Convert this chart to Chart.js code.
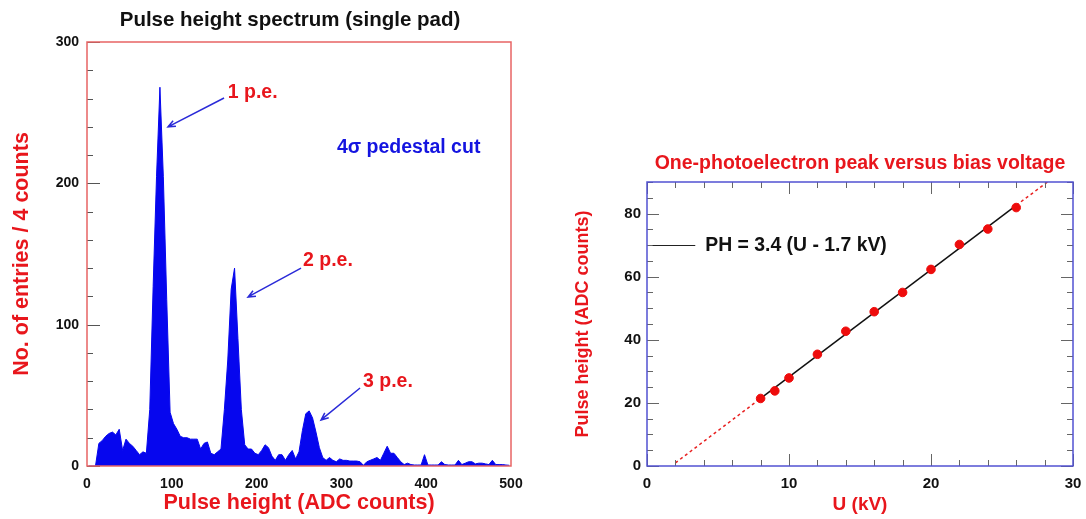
<!DOCTYPE html>
<html>
<head>
<meta charset="utf-8">
<title>Pulse height spectrum</title>
<script src="https://cdn.jsdelivr.net/npm/chart.js@4.4.1/dist/chart.umd.min.js"></script>
<style>
  body { margin: 0; background: #fff; overflow: hidden; }
  #page { position: relative; width: 1086px; height: 519px; overflow: hidden; background: #fff; }
  canvas { position: absolute; top: 0; }
  #spectrum { left: 0; }
  #bias { left: 540px; }
</style>
</head>
<body>
<div id="page">
  <canvas id="spectrum" width="580" height="519"></canvas>
  <canvas id="bias" width="640" height="519"></canvas>
</div>
<script>
// Left plot: entries per bin of 4 ADC counts (bin 0 = 0..4 counts)
const binWidth = 4;
const entries = [
  0, 0, 0, 16, 18, 21, 23, 24, 22, 26,
  11, 19, 16, 14, 11, 8, 10, 9, 40, 127,
  205, 268, 205, 118, 38, 30, 26, 21, 20, 20,
  19, 19, 19, 12, 16, 17, 9, 8, 10, 12,
  40, 75, 125, 140, 90, 40, 15, 12, 12, 9,
  8, 11, 15, 13, 7, 4, 8, 8, 4, 8,
  11, 5, 10, 25, 37, 39, 34, 24, 13, 6,
  4, 6, 4, 3, 5, 4, 4, 3.5, 3.5, 3.5,
  3, 0.5, 3, 4, 5, 6, 4, 9, 14, 9,
  9, 6, 3, 1, 2, 1, 0.7, 0.7, 0.7, 8,
  0.7, 0.7, 0.7, 0.7, 3, 1, 0.7, 0.7, 0.7, 4,
  1, 2, 3, 3, 1.5, 2, 2, 1.5, 1, 4,
  1, 1, 1, 0.7, 0.5
];
const spectrumXTicks = [0, 100, 200, 300, 400, 500];
const spectrumYTicks = [0, 100, 200, 300];
const peakLabels = ['1 p.e.', '2 p.e.', '3 p.e.'];

// Right plot: one-photoelectron peak position versus bias voltage
const biasVoltage = [8, 9, 10, 12, 14, 16, 18, 20, 22, 24, 26];
const peakHeight = [21.4, 23.8, 27.9, 35.4, 42.7, 48.9, 55.0, 62.3, 70.2, 75.1, 81.9];
const fitU = [8, 26];
const fitPH = [21.4, 82.6];
const lowExtU = [2, 8];
const lowExtPH = [1.0, 21.4];
const highExtU = [26, 28.2];
const highExtPH = [82.6, 90];
const biasXTicks = [0, 10, 20, 30];
const biasYTicks = [0, 20, 40, 60, 80];

const FONT = "'Liberation Sans', Arial, Helvetica, sans-serif";
const RED = '#e8161c';
const BLUE = '#1414e0';

function pares(xs, ys) {
    return xs.map((x, i) => ({ x: x, y: ys[i] }));
}

function fixTicks(values) {
    return scale => { scale.ticks = values.map(v => ({ value: v })); };
}

// frame round the plot area plus inner tick marks
const frameAndTicks = {
    id: 'frameAndTicks',
    afterDatasetsDraw(chart, args, o) {
        const { ctx, chartArea: a } = chart;
        const line = (x1, y1, x2, y2) => {
            ctx.beginPath(); ctx.moveTo(x1, y1); ctx.lineTo(x2, y2); ctx.stroke();
        };
        const isMajor = (v, step) => Math.abs(v / step - Math.round(v / step)) < 1e-6;
        ctx.save();
        ctx.lineWidth = 1;
        ctx.strokeStyle = o.tickColor;
        if (o.x) {
            const s = chart.scales.x;
            for (let v = s.min; v <= s.max + 1e-9; v += o.x.minor) {
                const p = Math.round(s.getPixelForValue(v)) + 0.5;
                const len = isMajor(v, o.x.major) ? o.majorLen : o.minorLen;
                line(p, a.bottom, p, a.bottom - len);
                if (o.mirror) line(p, a.top, p, a.top + len);
            }
        }
        if (o.y) {
            const s = chart.scales.y;
            for (let v = s.min; v <= s.max + 1e-9; v += o.y.minor) {
                const p = Math.round(s.getPixelForValue(v)) + 0.5;
                const len = isMajor(v, o.y.major) ? o.majorLen : o.minorLen;
                line(a.left, p, a.left + len, p);
                if (o.mirror) line(a.right, p, a.right - len, p);
            }
        }
        ctx.strokeStyle = o.color;
        ctx.lineWidth = o.width;
        ctx.strokeRect(a.left, a.top, a.right - a.left, a.bottom - a.top);
        ctx.restore();
    }
};

function arrow(ctx, x1, y1, x2, y2) {
    const ang = Math.atan2(y2 - y1, x2 - x1);
    const len = 8;
    ctx.beginPath();
    ctx.moveTo(x1, y1);
    ctx.lineTo(x2, y2);
    ctx.moveTo(x2 - len * Math.cos(ang - 0.4), y2 - len * Math.sin(ang - 0.4));
    ctx.lineTo(x2, y2);
    ctx.lineTo(x2 - len * Math.cos(ang + 0.4), y2 - len * Math.sin(ang + 0.4));
    ctx.stroke();
}

// labels and arrows pointing at the photoelectron peaks
const spectrumNotes = {
    id: 'spectrumNotes',
    afterDraw(chart) {
        const { ctx, scales: { x, y } } = chart;
        const notes = [
            { text: peakLabels[0], tx: 166, ty: 264, from: [161.6, 260.4], to: [95.5, 240] },
            { text: peakLabels[1], tx: 254.7, ty: 145, from: [252.4, 140], to: [189.9, 119.6] },
            { text: peakLabels[2], tx: 325.5, ty: 59.4, from: [322, 55.2], to: [276, 32.6] }
        ];
        ctx.save();
        ctx.font = 'bold 19.5px ' + FONT;
        ctx.textBaseline = 'middle';
        ctx.textAlign = 'left';
        notes.forEach(n => {
            ctx.fillStyle = RED;
            ctx.fillText(n.text, x.getPixelForValue(n.tx), y.getPixelForValue(n.ty));
            ctx.strokeStyle = '#2a2ad8';
            ctx.lineWidth = 1.5;
            arrow(ctx, x.getPixelForValue(n.from[0]), y.getPixelForValue(n.from[1]),
                x.getPixelForValue(n.to[0]), y.getPixelForValue(n.to[1]));
        });
        ctx.fillStyle = BLUE;
        ctx.fillText('4\u03c3 pedestal cut', x.getPixelForValue(294.8), y.getPixelForValue(225));
        ctx.restore();
    }
};

// legend line with the fitted function
const fitLegend = {
    id: 'fitLegend',
    afterDraw(chart) {
        const { ctx, scales: { x, y } } = chart;
        const py = Math.round(y.getPixelForValue(70)) + 0.5;
        ctx.save();
        ctx.strokeStyle = '#222';
        ctx.lineWidth = 1;
        ctx.beginPath();
        ctx.moveTo(x.getPixelForValue(0.4), py);
        ctx.lineTo(x.getPixelForValue(3.4), py);
        ctx.stroke();
        ctx.fillStyle = '#111';
        ctx.font = 'bold 19.4px ' + FONT;
        ctx.textBaseline = 'middle';
        ctx.fillText('PH = 3.4 (U - 1.7 kV)', x.getPixelForValue(4.1), py);
        ctx.restore();
    }
};

function tickFont(size) {
    return { family: FONT, weight: 'bold', size: size };
}

function axisTitle(text, size, padding) {
    return { display: true, text: text, color: RED, font: { family: FONT, weight: 'bold', size: size }, padding: padding };
}

function criarEspectro() {
    const pontos = entries.map((v, i) => ({ x: i * binWidth + binWidth / 2, y: v }));
    new Chart(document.getElementById('spectrum'), {
        type: 'line',
        data: {
            datasets: [{
                data: pontos,
                fill: 'origin',
                backgroundColor: '#0606ee',
                borderColor: '#0606ee',
                borderWidth: 1,
                pointRadius: 0,
                tension: 0
            }]
        },
        options: {
            responsive: false,
            animation: false,
            layout: { padding: 0 },
            plugins: {
                legend: { display: false },
                tooltip: { enabled: false },
                title: {
                    display: true,
                    text: 'Pulse height spectrum (single pad)',
                    color: '#111',
                    font: { family: FONT, weight: 'bold', size: 20.5 },
                    padding: { top: 7.7, bottom: 9.7 }
                },
                frameAndTicks: {
                    color: '#e86464', width: 1.5, tickColor: '#555',
                    majorLen: 13, minorLen: 6, mirror: false,
                    y: { minor: 20, major: 100 }
                }
            },
            scales: {
                x: {
                    type: 'linear', min: 0, max: 500,
                    afterBuildTicks: fixTicks(spectrumXTicks),
                    afterFit: s => { s.height = 53; },
                    grid: { display: false, drawTicks: false },
                    border: { display: false },
                    ticks: { color: '#111', font: tickFont(14), padding: 10, maxRotation: 0 },
                    title: axisTitle('Pulse height (ADC counts)', 21.5, { top: 0, bottom: 3 })
                },
                y: {
                    min: 0, max: 300,
                    afterBuildTicks: fixTicks(spectrumYTicks),
                    afterFit: s => { s.width = 87; },
                    grid: { display: false, drawTicks: false },
                    border: { display: false },
                    ticks: { color: '#111', font: tickFont(14), padding: 8 },
                    title: axisTitle('No. of entries / 4 counts', 21.5, { top: 9, bottom: 0 })
                },
                // empty right-hand box so the title centres like the original
                yRight: {
                    position: 'right',
                    afterFit: s => { s.width = 69; },
                    grid: { display: false, drawTicks: false },
                    border: { display: false },
                    ticks: { display: false }
                }
            }
        },
        plugins: [frameAndTicks, spectrumNotes]
    });
}

function criarTensao() {
    new Chart(document.getElementById('bias'), {
        type: 'scatter',
        data: {
            datasets: [
                {
                    data: pares(biasVoltage, peakHeight),
                    pointRadius: 4.3,
                    pointBackgroundColor: '#ee0c0c',
                    pointBorderColor: '#ee0c0c',
                    showLine: false
                },
                {
                    data: pares(fitU, fitPH),
                    showLine: true,
                    borderColor: '#111',
                    borderWidth: 1.5,
                    pointRadius: 0
                },
                {
                    data: pares(lowExtU, lowExtPH),
                    showLine: true,
                    borderColor: '#e82020',
                    borderWidth: 1.5,
                    borderDash: [3, 3],
                    pointRadius: 0
                },
                {
                    data: pares(highExtU, highExtPH),
                    showLine: true,
                    borderColor: '#e82020',
                    borderWidth: 1.5,
                    borderDash: [3, 3],
                    pointRadius: 0
                }
            ]
        },
        options: {
            responsive: false,
            animation: false,
            layout: { padding: { left: 0, right: 107, top: 0, bottom: 0 } },
            plugins: {
                legend: { display: false },
                tooltip: { enabled: false },
                title: {
                    display: true,
                    fullSize: false,
                    text: 'One-photoelectron peak versus bias voltage',
                    color: RED,
                    font: { family: FONT, weight: 'bold', size: 19.5 },
                    padding: { top: 152.3, bottom: 6.3 }
                },
                frameAndTicks: {
                    color: '#5252d2', width: 1.5, tickColor: '#666',
                    majorLen: 12, minorLen: 6, mirror: true,
                    x: { minor: 2, major: 10 },
                    y: { minor: 5, major: 20 }
                }
            },
            scales: {
                x: {
                    type: 'linear', min: 0, max: 30,
                    afterBuildTicks: fixTicks(biasXTicks),
                    afterFit: s => { s.height = 53; },
                    grid: { display: false, drawTicks: false },
                    border: { display: false },
                    ticks: { color: '#111', font: tickFont(15), padding: 9, maxRotation: 0 },
                    title: axisTitle('U (kV)', 19, { top: 0, bottom: 2.6 })
                },
                y: {
                    min: 0, max: 90,
                    afterBuildTicks: fixTicks(biasYTicks),
                    afterFit: s => { s.width = 107; },
                    grid: { display: false, drawTicks: false },
                    border: { display: false },
                    ticks: { color: '#111', font: tickFont(15), padding: 6 },
                    title: axisTitle('Pulse height (ADC counts)', 18, { top: 32, bottom: 0 })
                }
            }
        },
        plugins: [frameAndTicks, fitLegend]
    });
}

criarEspectro();
criarTensao();
</script>
</body>
</html>
